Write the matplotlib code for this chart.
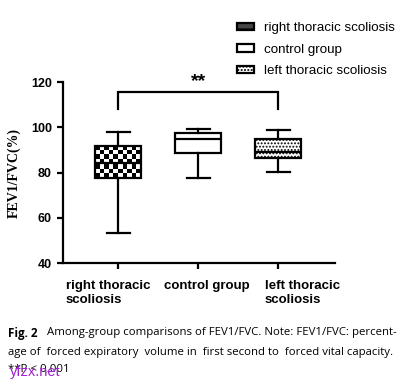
import matplotlib
matplotlib.use("Agg")
import matplotlib.pyplot as plt
import matplotlib.transforms as mtransforms
from matplotlib.patches import Patch
import numpy as np

# ---- data ----
groups = ["right thoracic\nscoliosis", "control group", "left thoracic\nscoliosis"]
legend_labels = ["right thoracic scoliosis", "control group", "left thoracic scoliosis"]
whisker_low = [53.3, 77.6, 80.5]
q1 = [77.6, 88.8, 86.3]
median = [84.5, 94.9, 89.0]
q3 = [91.9, 97.6, 94.9]
whisker_high = [98.0, 99.4, 98.7]
hatches = ["", "", "....."]
y_ticks = [40, 60, 80, 100, 120]
sig_label = "**"
sig_pair = (1, 3)
sig_top = 115.7
sig_leg = 108.3

W, H, DPI = 4.15, 3.86, 100
fig = plt.figure(figsize=(W, H), dpi=DPI)
ax = fig.add_axes([0.152, 0.318, 0.655, 0.469])

stats = []
for i in range(len(groups)):
    stats.append(dict(whislo=whisker_low[i], q1=q1[i], med=median[i],
                      q3=q3[i], whishi=whisker_high[i], fliers=[]))

lw = 1.6
bw = 0.575
positions = list(range(1, len(groups) + 1))
res = ax.bxp(stats, positions=positions, widths=bw, patch_artist=True,
             showfliers=False,
             boxprops=dict(facecolor="white", edgecolor="black", linewidth=lw),
             medianprops=dict(color="black", linewidth=lw),
             whiskerprops=dict(color="black", linewidth=lw),
             capprops=dict(color="black", linewidth=lw))
for box, h in zip(res["boxes"], hatches):
    box.set_hatch(h)
    if hasattr(box, "set_hatch_linewidth") and h:
        box.set_hatch_linewidth(0.9)

ax.set_xlim(0.31, 3.71)
ax.set_ylim(40, 120)

# checkerboard fill for the first box, clipped to the box patch
box0 = res["boxes"][0]
box0.set_facecolor("none")
bx0, bx1 = positions[0] - bw / 2, positions[0] + bw / 2
p0 = ax.transData.transform((bx0, q1[0]))
p1 = ax.transData.transform((bx1, q3[0]))
nx = max(1, int(round((p1[0] - p0[0]) / 4.5)))
ny = max(1, int(round((p1[1] - p0[1]) / 4.5)))
checker = np.add.outer(np.arange(ny), np.arange(nx)) % 2
im = ax.imshow(checker, cmap="gray", vmin=0, vmax=1,
               extent=(bx0, bx1, q1[0], q3[0]), aspect="auto",
               interpolation="nearest", zorder=1.9, origin="lower")
im.set_clip_path(box0)
ax.set_xlim(0.31, 3.71)
ax.set_ylim(40, 120)
ax.set_aspect("auto")

ax.set_yticks(y_ticks)
ax.set_xticks(positions)
ax.set_xticklabels([])
label_shift = [-0.10, 0.09, 0.24]
base = mtransforms.blended_transform_factory(ax.transData, ax.transAxes)
for pos, g, dx in zip(positions, groups, label_shift):
    tr = mtransforms.offset_copy(base, fig=fig, x=dx, y=-0.165, units="inches")
    ax.text(pos, 0, g, transform=tr, ha="center", va="top",
            multialignment="left", linespacing=1.3, fontsize=9.5,
            fontweight="bold", family="Liberation Sans", clip_on=False)
for lab in ax.get_yticklabels():
    lab.set_fontfamily("Liberation Sans")
    lab.set_fontweight("bold")
    lab.set_fontsize(9)

for s in ["top", "right"]:
    ax.spines[s].set_visible(False)
for s in ["left", "bottom"]:
    ax.spines[s].set_linewidth(1.6)
ax.tick_params(axis="both", width=1.6, length=4.5, direction="out")
ax.tick_params(axis="y", pad=3.5)

ax.set_ylabel("FEV1/FVC(%)", family="Liberation Serif", fontweight="bold",
              fontsize=10, labelpad=7)

# significance bracket
x1, x2 = sig_pair
ax.plot([x1, x1, x2, x2], [sig_leg, sig_top, sig_top, sig_leg], color="black",
        linewidth=lw, clip_on=False, solid_joinstyle="miter")
ax.text((x1 + x2) / 2, sig_top + 1.0, sig_label, ha="center", va="bottom",
        fontsize=14, fontweight="bold", family="Liberation Sans", clip_on=False)

# legend
handles = [Patch(facecolor="white", edgecolor="black", hatch=h, linewidth=lw)
           for h in hatches]
handles[0] = Patch(facecolor="#444444", edgecolor="black", hatch="--",
                   linewidth=lw)
fig.legend(handles, legend_labels, loc="upper left",
           bbox_to_anchor=(0.572, 0.942), frameon=False,
           prop=dict(family="Liberation Sans", size=9.6),
           handlelength=1.28, handleheight=0.5, handletextpad=0.7,
           labelspacing=0.7, borderaxespad=0, borderpad=0)

# caption
cap_font = "Open Sans"
cap_size = 8.2
fig.text(8 / (W * DPI), 1 - 333 / 386, "Fig. 2", fontweight="bold",
         fontsize=8.4, family=cap_font, va="center", ha="left")
fig.text(47 / (W * DPI), 1 - 333 / 386,
         "Among-group comparisons of FEV1/FVC. Note: FEV1/FVC: percent-",
         fontsize=cap_size, family=cap_font, va="center", ha="left")
fig.text(8 / (W * DPI), 1 - 352 / 386,
         "age of  forced expiratory  volume in  first second to  forced vital capacity.",
         fontsize=cap_size, family=cap_font, va="center", ha="left")
fig.text(8 / (W * DPI), 1 - 370 / 386, "**P < 0.001",
         fontsize=cap_size, family=cap_font, va="center", ha="left")
fig.text(10 / (W * DPI), 1 - 372 / 386, "yfzx.net", fontsize=10.5,
         color="#a020d0", family="Liberation Sans", va="center", ha="left")

fig.savefig("out.png", dpi=DPI)
